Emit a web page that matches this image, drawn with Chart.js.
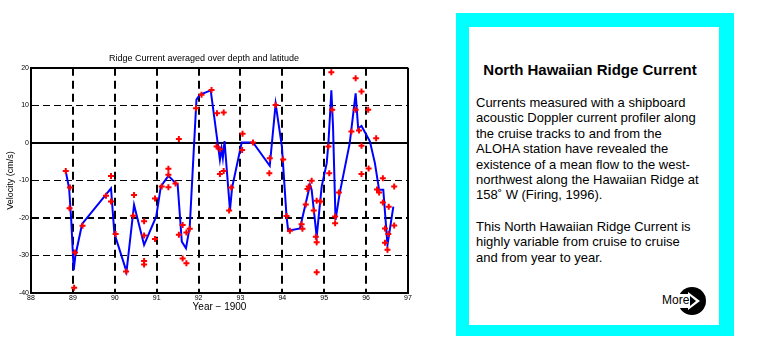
<!DOCTYPE html>
<html lang="en">
<head>
  <meta charset="UTF-8" />
  <title>North Hawaiian Ridge Current</title>
  <script src="https://cdn.jsdelivr.net/npm/chart.js"></script>
  <style>
    body {
      margin: 0;
      padding: 0;
      width: 759px;
      height: 351px;
      background: #fff;
      overflow: hidden;
      font-family: "Liberation Sans", Arial, sans-serif;
      position: relative;
    }
    #chart-box {
      position: absolute;
      left: 0;
      top: 0;
      width: 440px;
      height: 351px;
    }
    #panel {
      position: absolute;
      left: 456px;
      top: 13px;
      width: 278px;
      height: 323px;
      box-sizing: border-box;
      border-style: solid;
      border-color: #00ffff;
      border-width: 14px 15px 11px 13px;
      background: #fff;
    }
    #panel h3 {
      position: absolute;
      left: 0;
      top: 34px;
      width: 242px;
      margin: 0;
      text-align: center;
      font-size: 15px;
      line-height: 18px;
      font-weight: bold;
      color: #000;
    }
    #panel p {
      position: absolute;
      left: 7px;
      margin: 0;
      font-size: 13px;
      line-height: 15.4px;
      color: #000;
      white-space: nowrap;
    }
    #more {
      position: absolute;
      left: 193px;
      top: 259px;
      width: 44px;
      height: 30px;
    }
    #more span {
      position: absolute;
      left: 0;
      top: 7px;
      font-size: 12px;
      line-height: 14px;
    }
  </style>
</head>
<body>

  <div id="chart-box">
    <canvas id="ridgeChart" width="440" height="351"></canvas>
  </div>

  <div id="panel">
    <h3>North Hawaiian Ridge Current</h3>
    <p style="top: 68px;">Currents measured with a shipboard<br>acoustic Doppler current profiler along<br>the cruise tracks to and from the<br>ALOHA station have revealed the<br>existence of a mean flow to the west-<br>northwest along the Hawaiian Ridge at<br>158˚ W (Firing, 1996).</p>
    <p style="top: 192px;">This North Hawaiian Ridge Current is<br>highly variable from cruise to cruise<br>and from year to year.</p>
    <div id="more">
      <svg width="44" height="30" viewBox="0 0 44 30" style="position:absolute;left:0;top:0">
        <circle cx="30" cy="15" r="14" fill="#000" />
        <rect x="10" y="8" width="16" height="14" fill="#fff" />
        <path d="M26 6 L38 15 L26 24 Z" fill="#fff" />
        <path d="M28 10 L34 15 L28 20 Z" fill="#000" />
      </svg>
      <span>More</span>
    </div>
  </div>

  <script>
    // averaged ridge current (blue line)
    const lineYears = [88.83, 88.91, 88.96, 89.02, 89.06, 89.22, 89.91, 89.99, 90.28, 90.46,
      90.70, 90.99, 91.10, 91.28, 91.46, 91.50, 91.60, 91.70, 91.79, 91.89,
      91.95, 92.03, 92.29, 92.51, 92.55, 92.58, 92.62, 92.75, 92.80, 93.03,
      93.30, 93.70, 93.84, 93.99, 94.10, 94.14, 94.42, 94.66, 94.70, 94.82,
      94.94, 95.06, 95.10, 95.15, 95.17, 95.21, 95.27, 95.37, 95.61, 95.75,
      95.81, 95.89, 96.09, 96.21, 96.31, 96.41, 96.51, 96.65];
    const lineVel = [-7.6, -12.1, -20.5, -33.9, -30.0, -21.6, -12.1, -24.1, -34.3, -16.5,
      -27.2, -19.6, -11.6, -8.8, -10.8, -11.0, -26.3, -28.1, -22.3, -1.0,
      11.5, 12.8, 14.0, -4.5, -1.5, -4.0, 0.5, -17.9, -12.0, 0.1,
      0.1, -6.1, 10.4, -1.0, -19.6, -23.4, -22.8, -11.2, -12.5, -25.0,
      -11.6, -5.4, 0.0, 9.7, 14.0, 4.4, -20.5, -13.4, 0.0, 13.2,
      3.9, 4.5, 0.4, -5.4, -12.5, -12.5, -27.2, -17.0];

    // individual section estimates (red crosses)
    const obsYears = [88.83, 88.93, 88.92, 89.23, 89.05, 89.03, 89.79, 89.91, 89.91, 90.02,
      90.46, 90.44, 90.27, 90.70, 90.70, 90.70, 90.70, 90.96, 90.96, 91.12,
      91.28, 91.28, 91.28, 91.45, 91.53, 91.62, 91.53, 91.71, 91.79, 91.62,
      91.71, 91.94, 92.07, 92.31, 92.44, 92.60, 92.43, 92.51, 92.51, 92.60,
      92.78, 92.73, 93.05, 93.04, 93.30, 93.70, 93.69, 93.84, 94.02, 94.10,
      94.18, 94.46, 94.48, 94.56, 94.60, 94.63, 94.70, 94.75, 94.82, 94.91,
      94.80, 94.82, 94.82, 95.10, 95.12, 95.17, 95.19, 95.26, 95.26, 95.35,
      95.65, 95.75, 95.75, 95.89, 95.83, 95.89, 95.89, 96.05, 96.06, 96.24,
      96.26, 96.31, 96.40, 96.40, 96.45, 96.53, 96.54, 96.45, 96.51, 96.67,
      96.67];
    const obsVel = [-7.5, -11.9, -17.4, -22.1, -29.2, -38.6, -14.1, -8.8, -15.6, -24.3,
      -13.9, -19.4, -34.3, -20.9, -24.7, -31.5, -32.4, -14.8, -25.6, -11.6,
      -6.9, -8.5, -11.8, -10.8, 1.0, -21.9, -24.5, -23.9, -22.9, -30.8,
      -32.1, 9.2, 12.8, 14.1, 7.9, 8.1, -1.0, -1.7, -8.3, -7.5,
      -11.9, -18.0, 2.4, -1.9, 0.1, -4.1, -8.1, 10.1, -4.4, -19.5,
      -23.4, -21.7, -22.9, -16.4, -12.3, -11.6, -10.1, -18.0, -15.4, -15.6,
      -25.0, -26.5, -34.5, -1.0, -8.1, 18.8, 8.8, -19.6, -21.4, -13.2,
      3.0, 17.2, 8.8, 13.7, 3.3, -0.8, -8.3, 8.8, -6.8, 1.2,
      -12.4, -13.2, -9.4, -15.9, -22.8, -24.3, -17.0, -26.6, -28.5, -11.6,
      -22.0];

    const yearTicks = [88, 89, 90, 91, 92, 93, 94, 95, 96, 97];
    const velTicks = [20, 10, 0, -10, -20, -30, -40];

    const linePoints = lineYears.map((x, i) => ({ x: x, y: lineVel[i] }));
    const obsPoints = obsYears.map((x, i) => ({ x: x, y: obsVel[i] }));

    const tickFont = { family: 'Liberation Sans', size: 7 };

    const ctx = document.getElementById('ridgeChart').getContext('2d');
    new Chart(ctx, {
      type: 'scatter',
      data: {
        datasets: [{
          label: 'Sections',
          data: obsPoints,
          showLine: false,
          pointStyle: 'cross',
          pointRadius: 3,
          pointBorderWidth: 2,
          pointBorderColor: '#ff0000',
          pointBackgroundColor: '#ff0000'
        }, {
          label: 'Average',
          data: linePoints,
          showLine: true,
          borderColor: '#0000ff',
          borderWidth: 2,
          pointRadius: 0,
          tension: 0
        }]
      },
      options: {
        responsive: false,
        devicePixelRatio: 1,
        animation: false,
        layout: {
          padding: { left: 0, right: 32, top: 0, bottom: 0 }
        },
        plugins: {
          legend: { display: false },
          tooltip: { enabled: false },
          title: {
            display: true,
            text: 'Ridge Current averaged over depth and latitude',
            color: '#000',
            font: { family: 'Liberation Sans', size: 9, weight: 'normal' },
            padding: { top: 53, bottom: 4 }
          }
        },
        scales: {
          x: {
            type: 'linear',
            min: 88,
            max: 97,
            afterFit: (scale) => { scale.height = 58; },
            afterBuildTicks: (scale) => {
              scale.ticks = yearTicks.map(v => ({ value: v }));
            },
            ticks: {
              color: '#000',
              font: tickFont,
              padding: 1,
              maxRotation: 0,
              callback: (v) => String(v)
            },
            grid: {
              drawTicks: false,
              color: '#000',
              lineWidth: 2
            },
            border: {
              display: true,
              color: '#000',
              width: 2,
              dash: (c) => (c.tick && (c.tick.value === 88 || c.tick.value === 97)) ? [] : [8, 5]
            },
            title: {
              display: true,
              text: 'Year − 1900',
              color: '#000',
              font: { family: 'Liberation Sans', size: 10 },
              padding: { top: 0, bottom: 38 }
            }
          },
          y: {
            min: -40,
            max: 20,
            afterFit: (scale) => { scale.width = 31; },
            afterBuildTicks: (scale) => {
              scale.ticks = velTicks.map(v => ({ value: v }));
            },
            ticks: {
              color: '#000',
              font: tickFont,
              padding: 2,
              callback: (v) => String(v)
            },
            grid: {
              drawTicks: false,
              color: '#000',
              lineWidth: (c) => {
                const v = c.tick ? c.tick.value : null;
                return (v === 0 || v === -20 || v === 20 || v === -40) ? 2 : 1;
              }
            },
            border: {
              display: true,
              color: '#000',
              width: 2,
              dash: (c) => {
                const v = c.tick ? c.tick.value : null;
                return (v === 0 || v === 20 || v === -40) ? [] : [7, 4];
              }
            },
            title: {
              display: true,
              text: 'Velocity (cm/s)',
              color: '#000',
              font: { family: 'Liberation Sans', size: 9 },
              padding: { top: 5, bottom: 0 }
            }
          }
        }
      }
    });
  </script>

</body>
</html>
